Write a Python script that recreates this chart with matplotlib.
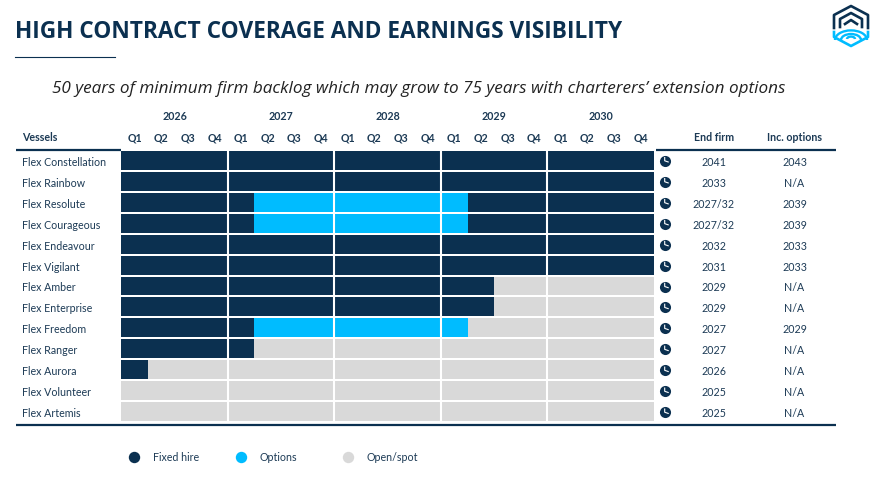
import numpy as np
import matplotlib
matplotlib.use("Agg")
import matplotlib.pyplot as plt
from matplotlib.patches import Arc

plt.rcParams["font.family"] = ["Lato", "DejaVu Sans"]

NAVY = "#0b3050"
CYAN = "#00bcff"
GREY = "#d9d9d9"
TEXT = "#1c3a55"
FS = 7.7

years = ["2026", "2027", "2028", "2029", "2030"]
quarters = ["Q1", "Q2", "Q3", "Q4"]
vessels = ["Flex Constellation", "Flex Rainbow", "Flex Resolute", "Flex Courageous",
           "Flex Endeavour", "Flex Vigilant", "Flex Amber", "Flex Enterprise",
           "Flex Freedom", "Flex Ranger", "Flex Aurora", "Flex Volunteer", "Flex Artemis"]
# quarters in each phase, in order, starting Q1 2026
fixed_1 = [20, 20, 5, 5, 20, 20, 14, 14, 5, 5, 1, 0, 0]
options = [0, 0, 8, 8, 0, 0, 0, 0, 8, 0, 0, 0, 0]
fixed_2 = [0, 0, 7, 7, 0, 0, 0, 0, 0, 0, 0, 0, 0]
open_spot = [0, 0, 0, 0, 0, 0, 6, 6, 7, 15, 19, 20, 20]
end_firm = ["2041", "2033", "2027/32", "2027/32", "2032", "2031", "2029", "2029",
            "2027", "2027", "2026", "2025", "2025"]
inc_options = ["2043", "N/A", "2039", "2039", "2033", "2033", "N/A", "N/A",
               "2029", "N/A", "N/A", "N/A", "N/A"]
legend_items = [("Fixed hire", NAVY), ("Options", CYAN), ("Open/spot", GREY)]

W, H = 887, 481
fig = plt.figure(figsize=(W / 100, H / 100), dpi=100)

# overlay in pixel coordinates, for everything around the chart
px = fig.add_axes([0, 0, 1, 1])
px.set_xlim(0, W)
px.set_ylim(H, 0)
px.axis("off")

# gantt axes: x in quarters, y in rows
left, right, top, bottom = 121.3, 654, 150.8, 423.2
ax = fig.add_axes([left / W, 1 - bottom / H, (right - left) / W, (bottom - top) / H])
ax.set_xlim(0, 20)
ax.set_ylim(len(vessels), 0)
ax.axis("off")

rows = np.arange(len(vessels)) + 0.5
start = np.zeros(len(vessels))
for vals, col in [(fixed_1, NAVY), (options, CYAN), (fixed_2, NAVY), (open_spot, GREY)]:
    ax.barh(rows, vals, left=start, height=0.905, color=col, linewidth=0)
    start = start + np.array(vals)
for q in range(4, 20, 4):
    ax.axvline(q, color="white", lw=1.5)

# header
px.text(15, 32.5, "HIGH CONTRACT COVERAGE AND EARNINGS VISIBILITY", fontsize=16.3,
        fontweight="bold", color=NAVY, va="center", ha="left", family=["Open Sans", "DejaVu Sans"])
px.plot([15, 115], [57.5, 57.5], color=NAVY, lw=0.8)
px.text(419, 89, "50 years of minimum firm backlog which may grow to 75 years with charterers\u2019 extension options",
        fontsize=12.33, style="italic", color="#222222", va="center", ha="center",
        family=["Open Sans", "DejaVu Sans"])

q_w = (right - left) / 20
for i, y in enumerate(years):
    px.text(left + q_w * (4 * i + 2), 116, y, fontsize=FS, fontweight="bold",
            color=TEXT, ha="center", va="center")
    for j, q in enumerate(quarters):
        px.text(left + q_w * (4 * i + j + 0.5), 138, q, fontsize=FS, fontweight="bold",
                color=TEXT, ha="center", va="center")
px.text(22, 138, "Vessels", fontsize=FS, fontweight="bold", color=TEXT, va="center")
px.text(714, 138, "End firm", fontsize=FS, fontweight="bold", color=TEXT, ha="center", va="center")
px.text(794.5, 138, "Inc. options", fontsize=FS, fontweight="bold", color=TEXT, ha="center", va="center")

px.plot([16, 121], [151, 151], color=NAVY, lw=1.6, solid_capstyle="butt")
px.plot([656, 836], [151, 151], color=NAVY, lw=1.6, solid_capstyle="butt")
px.plot([16, 836], [426, 426], color=NAVY, lw=1.6, solid_capstyle="butt")

row_h = (bottom - top) / len(vessels)
for i, name in enumerate(vessels):
    yc = top + row_h * (i + 0.5)
    px.text(22, yc + 1, name, fontsize=FS, color=TEXT, va="center")
    px.text(714, yc + 1, end_firm[i], fontsize=FS, color=TEXT, ha="center", va="center")
    px.text(794.5, yc + 1, inc_options[i], fontsize=FS, color=TEXT, ha="center", va="center")
    # clock icon
    px.plot(664.7, yc + 0.5, "o", ms=8, color=NAVY, mew=0)
    px.plot([664.7, 664.7, 668.2], [yc - 2.7, yc + 0.5, yc + 1.7], color="white", lw=0.8)

# legend
for (label, col), x in zip(legend_items, [134.5, 241, 348]):
    px.plot(x, 458, "o", ms=8.2, color=col, mew=0)
    px.text(x + 19, 458, label, fontsize=FS, color=TEXT, va="center")

# logo
cx = 851
px.plot([cx - 17, cx - 17, cx, cx + 17, cx + 17], [29, 16, 7, 16, 29], color=NAVY, lw=1.9)
px.plot([cx - 11, cx - 11, cx, cx + 11, cx + 11], [28, 20, 14, 20, 28], color=NAVY, lw=1.9)
px.plot([cx - 6, cx, cx + 6], [25, 21, 25], color=NAVY, lw=1.9)
px.plot([cx - 17, cx - 17, cx, cx + 17, cx + 17], [33, 38, 47, 38, 33], color=CYAN, lw=1.9)
for w, y in [(32, 41), (20, 41), (8, 40)]:
    px.add_patch(Arc((cx, y), w, w * 0.6, theta1=180, theta2=360, color=CYAN, lw=1.7))

fig.savefig("out.png", dpi=100, facecolor="white")
